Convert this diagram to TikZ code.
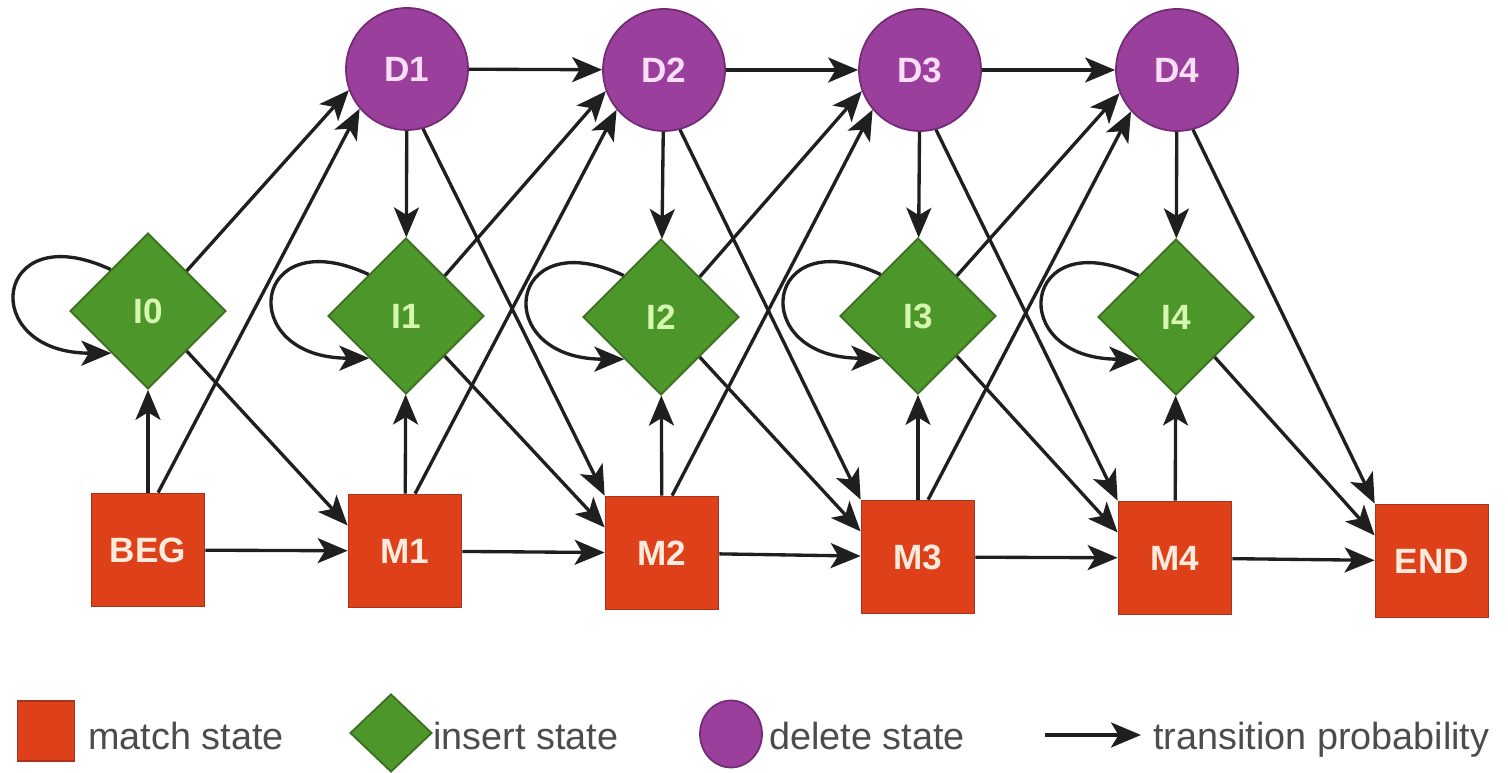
\documentclass[tikz,border=0pt]{standalone}
\usepackage{fontspec}
\setmainfont{Liberation Sans}
\usepackage{tikz}
\usetikzlibrary{arrows.meta,shapes.geometric}
\definecolor{matchfill}{HTML}{DE4119}
\definecolor{matchdraw}{HTML}{A9341C}
\definecolor{matchtext}{HTML}{FFEBDD}
\definecolor{insertfill}{HTML}{4D972A}
\definecolor{insertdraw}{HTML}{3A6E20}
\definecolor{inserttext}{HTML}{D6F7B0}
\definecolor{deletefill}{HTML}{9A3F9B}
\definecolor{deletedraw}{HTML}{742B76}
\definecolor{deletetext}{HTML}{FADDF6}
\definecolor{legendtext}{HTML}{4C4C4C}

\begin{document}
\begin{tikzpicture}[x=0.02cm,y=0.02cm,
  trans/.style={draw=black!88,line width=1.9pt,-{Stealth[length=0.6cm,width=0.5cm,inset=0.15cm]}},
  statefont/.style={font=\fontsize{20}{20}\selectfont\bfseries},
  matchst/.style={rectangle,draw=matchdraw,fill=matchfill,line width=1pt,minimum width=2.26cm,minimum height=2.26cm,inner sep=0pt,text=matchtext,statefont},
  insertst/.style={diamond,aspect=1,draw=insertdraw,fill=insertfill,line width=1pt,minimum width=3.12cm,minimum height=3.12cm,inner sep=0pt,text=inserttext,statefont},
  deletest/.style={circle,draw=deletedraw,fill=deletefill,line width=1pt,minimum size=2.44cm,inner sep=0pt,text=deletetext,statefont},
  legend/.style={anchor=base west,inner sep=0pt,text=legendtext,font=\fontsize{21.5}{21.5}\selectfont}]
\useasboundingbox (0,0) rectangle (1508,773);

\node[deletest] (D1) at (407,704) {D1};
\node[deletest] (D2) at (664,703) {D2};
\node[deletest] (D3) at (920,703) {D3};
\node[deletest] (D4) at (1177,703) {D4};

\node[insertst] (I0) at (148,462) {I0};
\node[insertst] (I1) at (406,457) {I1};
\node[insertst] (I2) at (661,456) {I2};
\node[insertst] (I3) at (918,457) {I3};
\node[insertst] (I4) at (1176,456) {I4};

\node[matchst] (BEG) at (148,223) {BEG};
\node[matchst] (M1) at (405,222) {M1};
\node[matchst] (M2) at (662,220) {M2};
\node[matchst] (M3) at (918,216) {M3};
\node[matchst] (M4) at (1175,215) {M4};
\node[matchst] (END) at (1432,212) {END};

\draw[trans] (D1) -- (D2);
\draw[trans] (D2) -- (D3);
\draw[trans] (D3) -- (D4);

\draw[trans] (D1) -- (I1);
\draw[trans] (D2) -- (I2);
\draw[trans] (D3) -- (I3);
\draw[trans] (D4) -- (I4);

\draw[trans] (D1.-75) -- (M2.north west);
\draw[trans] (D2.-75) -- (M3.north west);
\draw[trans] (D3.-75) -- (M4.north west);
\draw[trans] (D4.-75) -- (END.north west);

\draw[trans] (I0.132) .. controls +(155:130) and +(180:135) .. (I0.229);
\draw[trans] (I1.132) .. controls +(155:130) and +(180:135) .. (I1.229);
\draw[trans] (I2.132) .. controls +(155:130) and +(180:135) .. (I2.229);
\draw[trans] (I3.132) .. controls +(155:130) and +(180:135) .. (I3.229);
\draw[trans] (I4.132) .. controls +(155:130) and +(180:135) .. (I4.229);

\draw[trans] (I0.46) -- (D1.200);
\draw[trans] (I1.46) -- (D2.200);
\draw[trans] (I2.46) -- (D3.200);
\draw[trans] (I3.46) -- (D4.202);

\draw[trans] (I0.-46) -- (M1.156);
\draw[trans] (I1.-46) -- (M2.156);
\draw[trans] (I2.-46) -- (M3.156);
\draw[trans] (I3.-46) -- (M4.156);
\draw[trans] (I4.-46) -- (END.156);

\draw[trans] (BEG) -- (I0);
\draw[trans] (M1) -- (I1);
\draw[trans] (M2) -- (I2);
\draw[trans] (M3) -- (I3);
\draw[trans] (M4) -- (I4);

\draw[trans] (BEG.80) -- (D1.220);
\draw[trans] (M1.80) -- (D2.220);
\draw[trans] (M2.80) -- (D3.220);
\draw[trans] (M3.80) -- (D4.222);

\draw[trans] (BEG) -- (M1);
\draw[trans] (M1) -- (M2);
\draw[trans] (M2) -- (M3);
\draw[trans] (M3) -- (M4);
\draw[trans] (M4) -- (END);

\node[rectangle,draw=matchdraw,fill=matchfill,line width=1pt,minimum width=1.14cm,minimum height=1.2cm,inner sep=0pt] (lmatch) at (46,42) {};
\node[legend] (tmatch) at (88,23) {match state};
\node[diamond,aspect=1.05,draw=insertdraw,fill=insertfill,line width=1pt,minimum width=1.64cm,minimum height=1.56cm,inner sep=0pt] (linsert) at (391,40) {};
\node[legend] (tinsert) at (433,23) {insert state};
\node[ellipse,draw=deletedraw,fill=deletefill,line width=1pt,minimum width=1.24cm,minimum height=1.34cm,inner sep=0pt] (ldelete) at (731,39) {};
\node[legend] (tdelete) at (769,23) {delete state};
\coordinate (ltransa) at (1045,38);
\coordinate (ltransb) at (1141,38);
\draw[trans] (ltransa) -- (ltransb);
\node[legend] (ttrans) at (1153,23) {transition probability};
\end{tikzpicture}
\end{document}
